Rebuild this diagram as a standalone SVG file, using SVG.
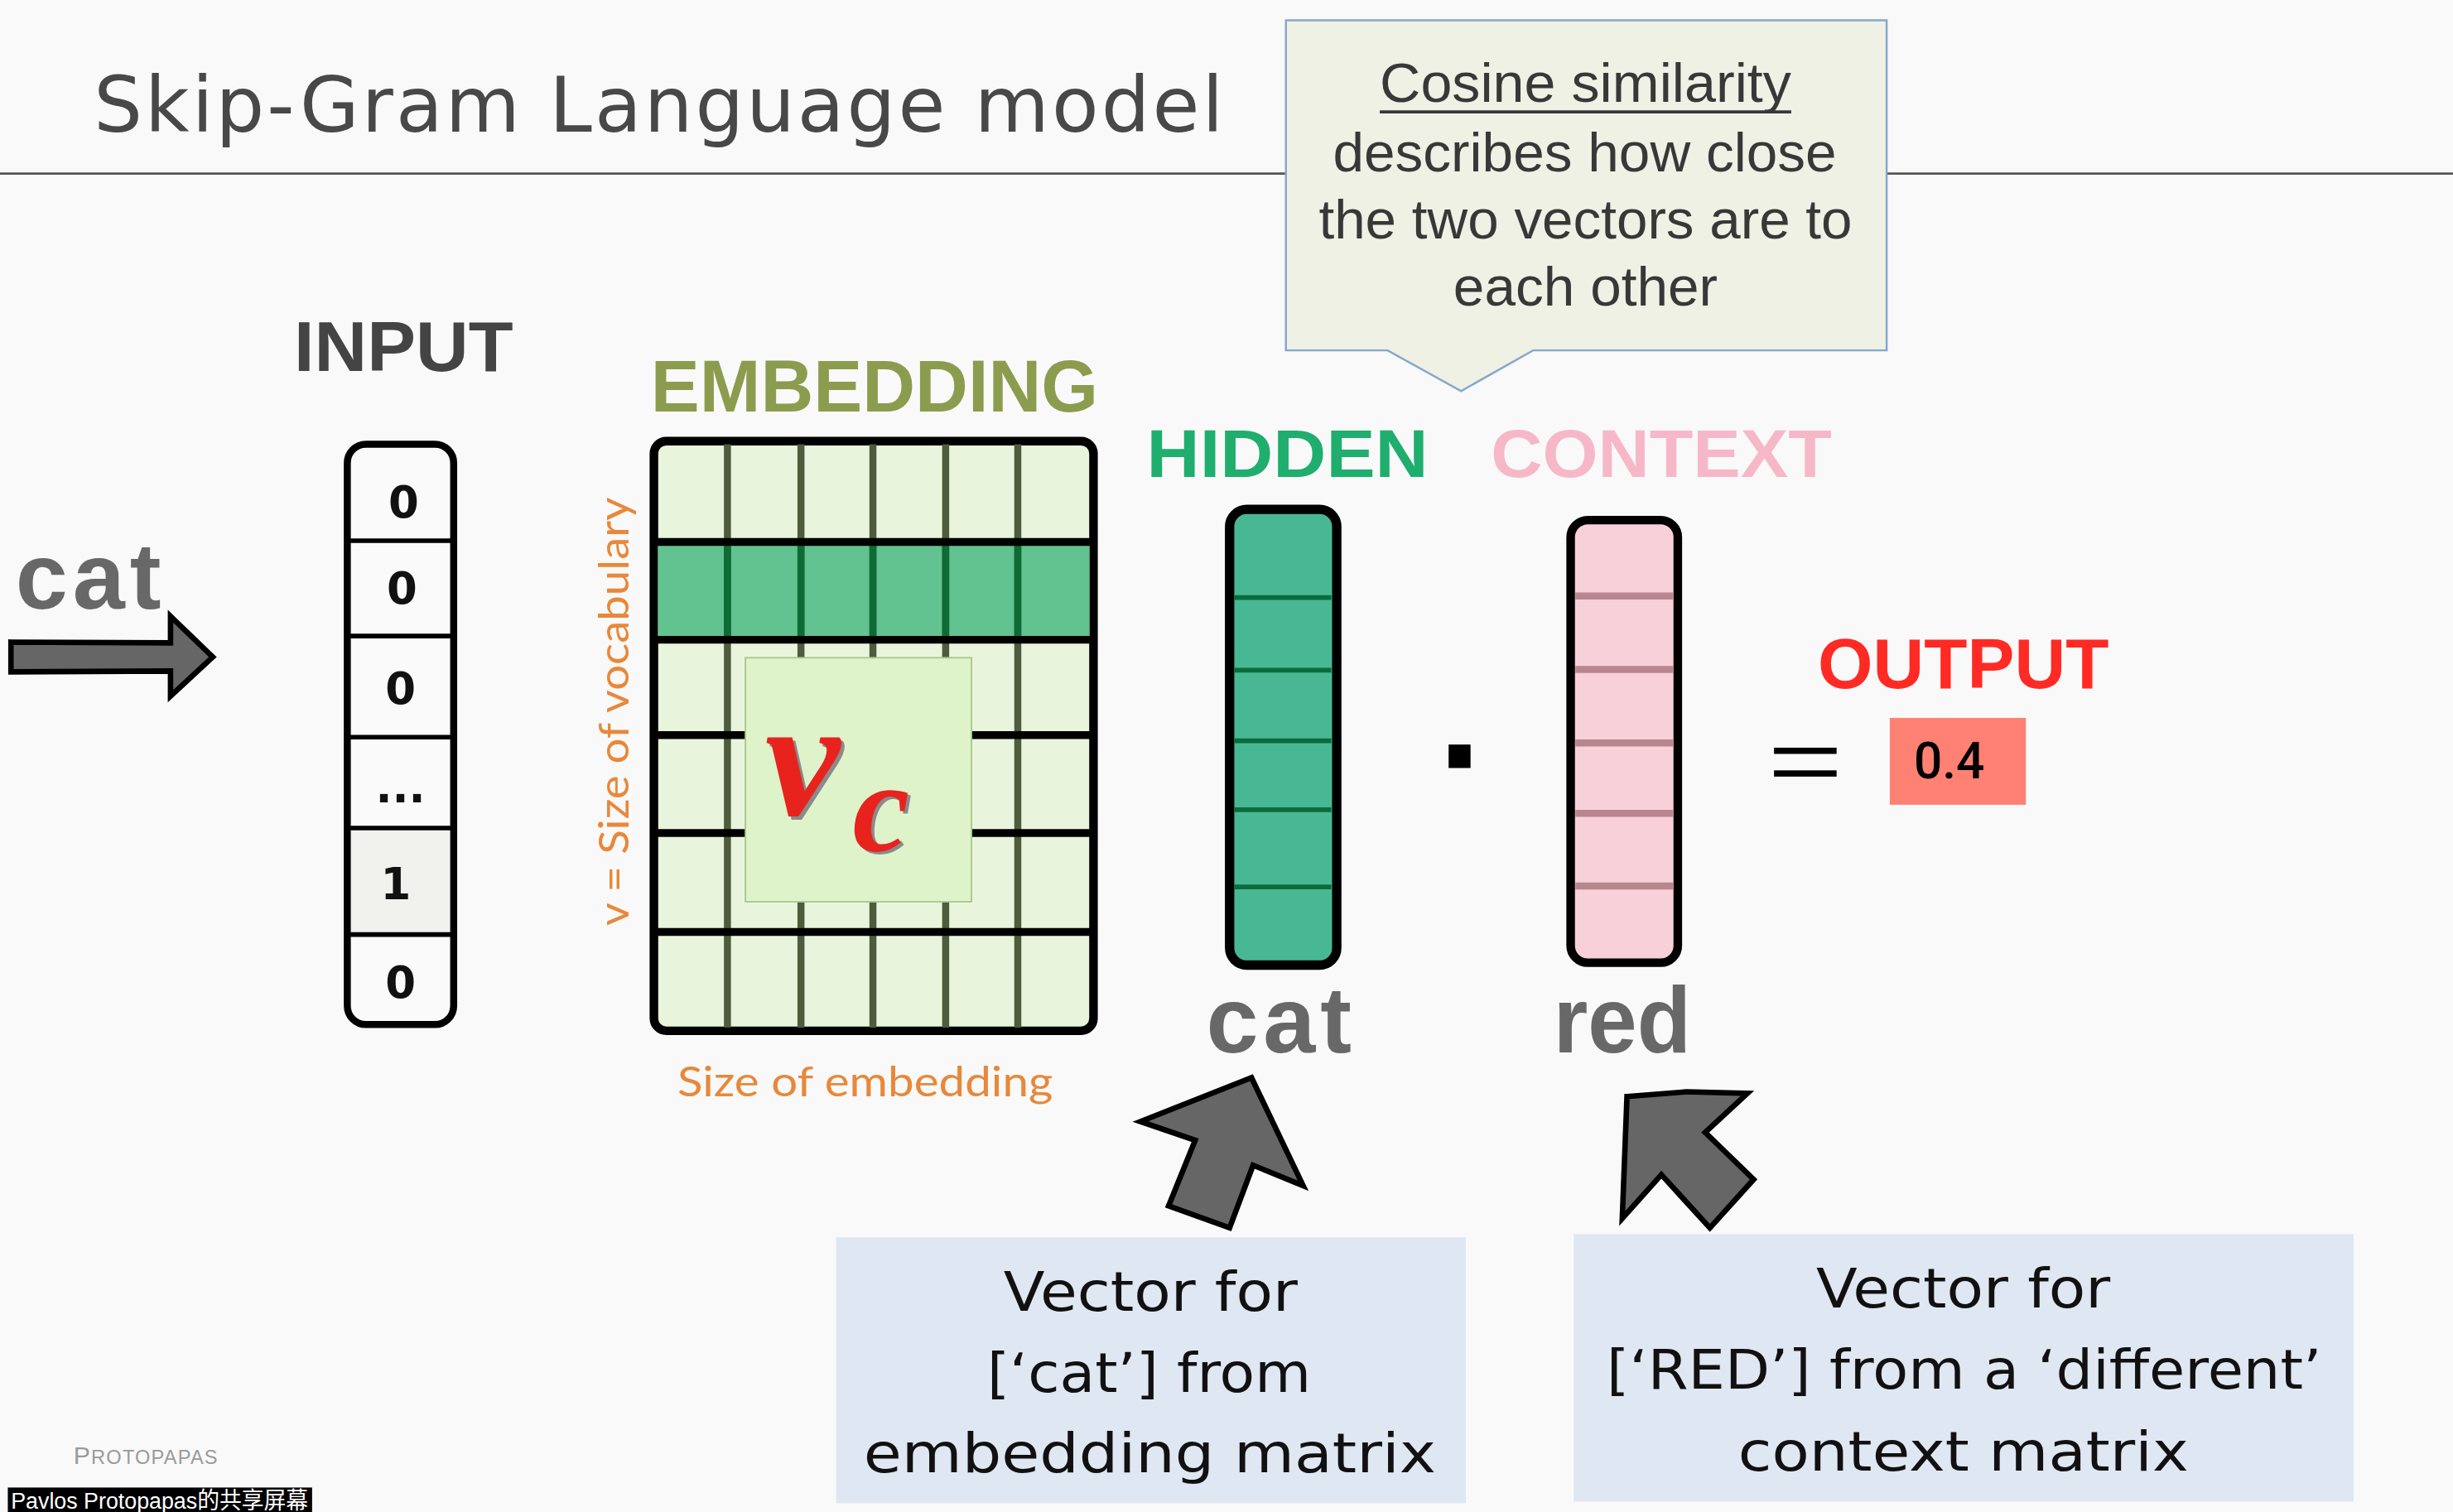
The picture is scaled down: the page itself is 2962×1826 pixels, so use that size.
<svg xmlns="http://www.w3.org/2000/svg" width="2962" height="1826" viewBox="0 0 2962 1826">
<style>
.sans{font-family:"Liberation Sans",Arial,sans-serif}
.lbl{font-family:"Liberation Sans",Arial,sans-serif;font-weight:bold}
.num{font-family:"DejaVu Sans","Liberation Sans",sans-serif;font-weight:bold;font-size:28px;fill:#111;text-anchor:middle}
.word{font-family:"Liberation Sans",Arial,sans-serif;font-weight:bold;font-size:60px;fill:#686868}
.bigarrow{fill:#666;stroke:#000;stroke-width:3.5;stroke-linejoin:miter}
.box{fill:#dfe7f2}
.boxtxt{font-family:"DejaVu Sans","Open Sans",sans-serif;font-size:35px;fill:#111;text-anchor:middle}
.orange{font-family:"Lato","Open Sans",sans-serif;font-size:27px;fill:#e8883a;text-anchor:middle}
</style>
<rect width="2962" height="1826" fill="#f9f9f9"/>
<g transform="scale(1.889)">
  <g id="title">
    <text x="60" y="84" font-family="'DejaVu Sans','Open Sans',sans-serif" font-size="49" fill="#484848" textLength="722" lengthAdjust="spacing">Skip-Gram Language model</text>
    <line x1="0" y1="111" x2="1568" y2="111" stroke="#555" stroke-width="1.4"/>
  </g>

  <g id="callout">
    <path d="M822,13 H1206 V224 H980 L934,250 L887,224 H822 Z" fill="#eef1e4" stroke="#86a6cc" stroke-width="1.3"/>
    <g class="sans" font-size="35" fill="#383838" text-anchor="middle">
      <text x="1013.5" y="65" textLength="263" lengthAdjust="spacingAndGlyphs">Cosine similarity</text>
      <text x="1013" y="109.5" textLength="322" lengthAdjust="spacingAndGlyphs">describes how close</text>
      <text x="1013.5" y="152.7" textLength="341" lengthAdjust="spacingAndGlyphs">the two vectors are to</text>
      <text x="1013.5" y="195.6" textLength="169" lengthAdjust="spacingAndGlyphs">each other</text>
    </g>
    <line x1="882" y1="71.5" x2="1145" y2="71.5" stroke="#383838" stroke-width="2"/>
  </g>

  <g id="input-word">
    <text class="word" x="10" y="389" textLength="93" lengthAdjust="spacing" font-size="62">cat</text>
  </g>

  <g id="input">
    <text class="lbl" x="188" y="237" font-size="45" fill="#444" textLength="140" lengthAdjust="spacingAndGlyphs">INPUT</text>
    <rect x="222" y="284" width="68" height="371" rx="12" fill="#fafafa" stroke="#000" stroke-width="4.5"/>
    <rect x="224.5" y="529.4" width="63" height="68" fill="#f1f1ed"/>
    <g stroke="#000" stroke-width="3">
      <line x1="224" y1="345.7" x2="288" y2="345.7"/>
      <line x1="224" y1="406.6" x2="288" y2="406.6"/>
      <line x1="224" y1="471.3" x2="288" y2="471.3"/>
      <line x1="224" y1="529.4" x2="288" y2="529.4"/>
      <line x1="224" y1="597.5" x2="288" y2="597.5"/>
    </g>
    <text class="num" x="258" y="331">0</text>
    <text class="num" x="257" y="386">0</text>
    <text class="num" x="256" y="450">0</text>
    <text class="num" x="256" y="513" font-size="22">...</text>
    <text class="num" x="253" y="575">1</text>
    <text class="num" x="256" y="638">0</text>
  </g>

  <g id="embedding">
    <text class="lbl" x="416" y="263" font-size="47" fill="#8c9c4e" textLength="286" lengthAdjust="spacingAndGlyphs">EMBEDDING</text>
    <rect x="418" y="282" width="281" height="377" rx="8" fill="#e8f5dc" stroke="#000" stroke-width="5.5"/>
    <rect x="420.5" y="346.5" width="276" height="62.5" fill="#62c290"/>
    <g stroke="#4d5c3c" stroke-width="4.5">
      <line x1="465" y1="284" x2="465" y2="657"/>
      <line x1="512" y1="284" x2="512" y2="657"/>
      <line x1="558" y1="284" x2="558" y2="657"/>
      <line x1="604.5" y1="284" x2="604.5" y2="657"/>
      <line x1="650.6" y1="284" x2="650.6" y2="657"/>
    </g>
    <g stroke="#0d6b35" stroke-width="4.5">
      <line x1="465" y1="348" x2="465" y2="407"/>
      <line x1="512" y1="348" x2="512" y2="407"/>
      <line x1="558" y1="348" x2="558" y2="407"/>
      <line x1="604.5" y1="348" x2="604.5" y2="407"/>
      <line x1="650.6" y1="348" x2="650.6" y2="407"/>
    </g>
    <g stroke="#000" stroke-width="5">
      <line x1="420" y1="346.5" x2="697" y2="346.5"/>
      <line x1="420" y1="409" x2="697" y2="409"/>
      <line x1="420" y1="470" x2="697" y2="470"/>
      <line x1="420" y1="532.6" x2="697" y2="532.6"/>
      <line x1="420" y1="595.8" x2="697" y2="595.8"/>
    </g>
    <rect x="476.5" y="420.5" width="144.5" height="156" fill="#def3ca" stroke="#a9c98f" stroke-width="1"/>
    <g font-family="'Liberation Serif','Times New Roman',serif" font-style="italic" font-weight="bold">
      <text x="491" y="523" font-size="108" fill="#8a8a8a">v</text>
      <text x="489" y="521" font-size="108" fill="#e8231e">v</text>
      <text x="547" y="545.5" font-size="82" fill="#8a8a8a">c</text>
      <text x="545" y="543.5" font-size="82" fill="#e8231e">c</text>
    </g>
    <text class="orange" transform="translate(402,455) rotate(-90)" textLength="274" lengthAdjust="spacingAndGlyphs">v = Size of vocabulary</text>
    <text class="orange" x="553" y="701" textLength="240" lengthAdjust="spacingAndGlyphs">Size of embedding</text>
  </g>

  <g id="hidden">
    <text class="lbl" x="733" y="305" font-size="43" fill="#1fae6e" textLength="180" lengthAdjust="spacingAndGlyphs">HIDDEN</text>
    <rect x="786" y="325.6" width="68.5" height="291.4" rx="11" fill="#48b894" stroke="#000" stroke-width="6"/>
    <g stroke="#0b6b3b" stroke-width="3">
      <line x1="789" y1="382" x2="851" y2="382"/>
      <line x1="789" y1="428.5" x2="851" y2="428.5"/>
      <line x1="789" y1="473.6" x2="851" y2="473.6"/>
      <line x1="789" y1="517.7" x2="851" y2="517.7"/>
      <line x1="789" y1="567" x2="851" y2="567"/>
    </g>
    <text class="word" x="771" y="673" textLength="93" lengthAdjust="spacing">cat</text>
  </g>

  <g id="dot">
    <rect x="926" y="476" width="14" height="15" fill="#000"/>
  </g>

  <g id="context">
    <text class="lbl" x="953" y="305" font-size="43" fill="#f6b8c8" textLength="218" lengthAdjust="spacingAndGlyphs">CONTEXT</text>
    <rect x="1004" y="332.5" width="68.5" height="283" rx="11" fill="#f8d0da" stroke="#000" stroke-width="5.5"/>
    <g stroke="#b8868f" stroke-width="4.5">
      <line x1="1007" y1="381" x2="1069.5" y2="381"/>
      <line x1="1007" y1="428" x2="1069.5" y2="428"/>
      <line x1="1007" y1="475" x2="1069.5" y2="475"/>
      <line x1="1007" y1="520" x2="1069.5" y2="520"/>
      <line x1="1007" y1="566.5" x2="1069.5" y2="566.5"/>
    </g>
    <text class="word" x="993" y="673" textLength="88" lengthAdjust="spacingAndGlyphs">red</text>
  </g>

  <g id="output">
    <rect x="1134" y="478" width="40" height="4" fill="#000"/>
    <rect x="1134" y="492.5" width="40" height="4" fill="#000"/>
    <text class="lbl" x="1162" y="440" font-size="45" fill="#ff2a24" textLength="186" lengthAdjust="spacingAndGlyphs">OUTPUT</text>
    <rect x="1208" y="459" width="87" height="55.5" fill="#ff8173"/>
    <text x="1246" y="497.5" font-family="Roboto,'Liberation Sans',sans-serif" font-weight="500" font-size="32" fill="#000" text-anchor="middle">0.4</text>
  </g>

  <g id="connectors">
    <path class="bigarrow" d="M7,410.5 L109,411 L109,394 L136,420 L109,445 L109,429 L7,429.5 Z" fill="#606060"/>
    <polygon class="bigarrow" points="800,689 833,758 801,745 786,785 747,771 764,729 729,717"/>
    <polygon class="bigarrow" points="1040,701 1078,698 1117,699 1090,724 1121,754 1093,785 1062,751 1037,779"/>
  </g>

  <g id="box-embedding">
    <rect class="box" x="534.5" y="791" width="402.5" height="170"/>
    <text class="boxtxt" x="735.5" y="838" textLength="188" lengthAdjust="spacingAndGlyphs">Vector for</text>
    <text class="boxtxt" x="734.5" y="890" textLength="207" lengthAdjust="spacingAndGlyphs">[‘cat’] from</text>
    <text class="boxtxt" x="735" y="941" textLength="366" lengthAdjust="spacingAndGlyphs">embedding matrix</text>
  </g>

  <g id="box-context">
    <rect class="box" x="1006" y="789" width="498.5" height="171"/>
    <text class="boxtxt" x="1255" y="836" textLength="188" lengthAdjust="spacingAndGlyphs">Vector for</text>
    <text class="boxtxt" x="1255.5" y="888" textLength="457" lengthAdjust="spacingAndGlyphs">[‘RED’] from a ‘different’</text>
    <text class="boxtxt" x="1255" y="940" textLength="288" lengthAdjust="spacingAndGlyphs">context matrix</text>
  </g>

  <g id="footer">
    <text x="47" y="936" font-family="'Liberation Sans',Arial,sans-serif" fill="#9a9a9a" textLength="92" lengthAdjust="spacing"><tspan font-size="16">P</tspan><tspan font-size="12.5">ROTOPAPAS</tspan></text>
    <rect x="5" y="951" width="194.5" height="17" fill="#000"/>
    <text x="7" y="964.5" font-family="'Liberation Sans','Noto Sans CJK SC',sans-serif" font-size="15" fill="#fff" textLength="190" lengthAdjust="spacingAndGlyphs">Pavlos Protopapas的共享屏幕</text>
  </g>
</g>
</svg>
